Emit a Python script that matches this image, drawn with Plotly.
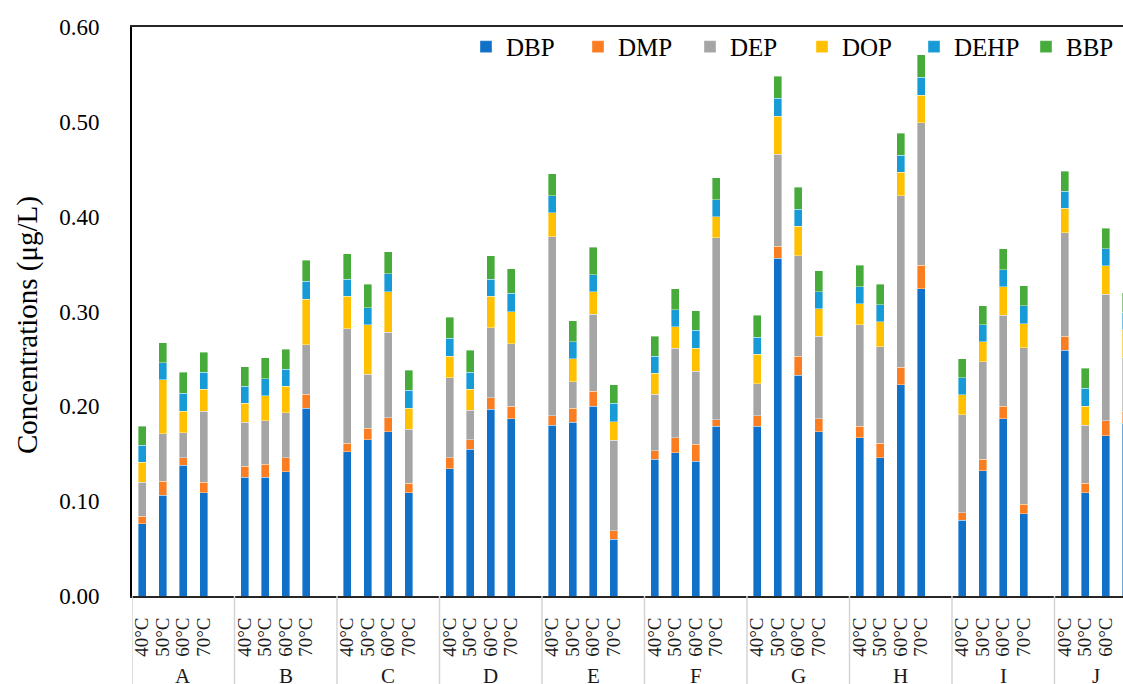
import plotly.graph_objects as go

# Sampling sites and extraction temperatures
groups = ["A", "B", "C", "D", "E", "F", "G", "H", "I", "J"]
temps = ["40°C", "50°C", "60°C", "70°C"]

# Phthalate concentrations (µg/L), ordered site by site, 40→70 °C within each site
DBP = [0.076, 0.106, 0.138, 0.109,
       0.125, 0.125, 0.131, 0.198,
       0.152, 0.165, 0.173, 0.109,
       0.134, 0.155, 0.197, 0.187,
       0.180, 0.183, 0.200, 0.060,
       0.144, 0.151, 0.142, 0.179,
       0.179, 0.356, 0.233, 0.173,
       0.167, 0.146, 0.223, 0.324,
       0.080, 0.132, 0.187, 0.087,
       0.259, 0.109, 0.169, 0.182]
DMP = [0.008, 0.015, 0.008, 0.011,
       0.012, 0.014, 0.015, 0.015,
       0.009, 0.012, 0.015, 0.010,
       0.012, 0.010, 0.012, 0.013,
       0.010, 0.015, 0.016, 0.009,
       0.009, 0.016, 0.018, 0.007,
       0.011, 0.013, 0.020, 0.014,
       0.012, 0.015, 0.018, 0.025,
       0.008, 0.012, 0.013, 0.010,
       0.015, 0.010, 0.016, 0.013]
DEP = [0.036, 0.050, 0.026, 0.075,
       0.046, 0.046, 0.047, 0.052,
       0.121, 0.057, 0.090, 0.057,
       0.084, 0.031, 0.074, 0.066,
       0.189, 0.028, 0.081, 0.095,
       0.060, 0.094, 0.077, 0.192,
       0.034, 0.097, 0.106, 0.087,
       0.107, 0.102, 0.181, 0.150,
       0.103, 0.103, 0.096, 0.165,
       0.109, 0.061, 0.133, 0.056]
DOP = [0.021, 0.057, 0.023, 0.023,
       0.020, 0.026, 0.028, 0.048,
       0.034, 0.052, 0.043, 0.022,
       0.023, 0.022, 0.033, 0.034,
       0.025, 0.024, 0.024, 0.020,
       0.022, 0.023, 0.024, 0.022,
       0.031, 0.040, 0.031, 0.029,
       0.022, 0.026, 0.025, 0.029,
       0.021, 0.021, 0.030, 0.025,
       0.026, 0.020, 0.030, 0.030]
DEHP = [0.018, 0.018, 0.019, 0.018,
        0.018, 0.018, 0.018, 0.019,
        0.018, 0.018, 0.019, 0.019,
        0.019, 0.018, 0.018, 0.019,
        0.018, 0.018, 0.018, 0.019,
        0.018, 0.018, 0.019, 0.018,
        0.018, 0.019, 0.018, 0.018,
        0.018, 0.018, 0.018, 0.019,
        0.018, 0.018, 0.018, 0.019,
        0.018, 0.019, 0.018, 0.018]
BBP = [0.020, 0.021, 0.022, 0.021,
       0.021, 0.022, 0.021, 0.022,
       0.027, 0.025, 0.023, 0.021,
       0.022, 0.023, 0.025, 0.026,
       0.023, 0.022, 0.029, 0.020,
       0.021, 0.022, 0.021, 0.023,
       0.023, 0.023, 0.023, 0.022,
       0.023, 0.022, 0.023, 0.024,
       0.020, 0.020, 0.022, 0.021,
       0.021, 0.021, 0.022, 0.021]

series = [
    ("DBP", DBP, "#1170C8"),
    ("DMP", DMP, "#FA7D22"),
    ("DEP", DEP, "#A5A5A5"),
    ("DOP", DOP, "#FFC000"),
    ("DEHP", DEHP, "#179BD7"),
    ("BBP", BBP, "#46AB3A"),
]

SERIF = "Liberation Serif, Times New Roman, serif"
SLOTS = len(temps) + 1          # four bars plus one empty slot per site

# figure geometry in pixels
W, H = 1123, 684
L, T, B = 132, 27, 88
plot_w, plot_h = W - L, H - T - B

# numeric x slot for every (site, temperature) pair
x_pos = [g * SLOTS + t for g in range(len(groups)) for t in range(len(temps))]
x_text = [temps[t] for g in range(len(groups)) for t in range(len(temps))]

fig = go.Figure()
for name, vals, color in series:
    fig.add_trace(go.Bar(
        x=x_pos, y=vals, name=name, width=0.4,
        marker=dict(color=color, line=dict(color="rgba(255,255,255,0.55)", width=0.7)),
    ))

# site dividers below the axis and site labels
shapes = []
annotations = []
for g, label in enumerate(groups):
    start = g * SLOTS - 0.5
    end = start + SLOTS if g < len(groups) - 1 else start + len(temps)
    shapes.append(dict(type="line", xref="x", yref="paper",
                       x0=start, x1=start, y0=0, y1=-0.2,
                       line=dict(color="#D4D4D4", width=1.5)))
    annotations.append(dict(x=(start + end) / 2, y=-0.116, xref="x", yref="paper",
                            text=label, showarrow=False, yanchor="top",
                            font=dict(family=SERIF, size=21, color="#1a1a1a")))

# y-axis title, centred at pixel (27, 325)
annotations.append(dict(x=(27 - L) / plot_w, y=(H - B - 325) / plot_h,
                        xref="paper", yref="paper", xanchor="center", yanchor="middle",
                        text="Concentrations (μg/L)", showarrow=False,
                        textangle=-90, font=dict(family=SERIF, size=29, color="#000")))

fig.update_layout(
    width=W, height=H,
    margin=dict(l=L, r=0, t=T, b=B, autoexpand=False),
    barmode="stack",
    plot_bgcolor="white", paper_bgcolor="white",
    showlegend=True,
    legend=dict(orientation="h", x=(466 - L) / plot_w, xanchor="left",
                y=0.965, yanchor="middle",
                entrywidth=67, entrywidthmode="pixels",
                font=dict(family=SERIF, size=25, color="#000"),
                bgcolor="rgba(0,0,0,0)", traceorder="normal"),
    shapes=shapes,
    annotations=annotations,
)

fig.update_xaxes(
    range=[-0.5, plot_w / 20.5 - 0.5],
    tickmode="array", tickvals=x_pos, ticktext=x_text, tickangle=-90,
    ticks="", ticklabelstandoff=12,
    tickfont=dict(family=SERIF, size=19, color="#1a1a1a"),
    showgrid=False, zeroline=False,
    showline=True, linecolor="#262626", linewidth=1.8, mirror=True,
)
fig.update_yaxes(
    range=[0, 0.60], dtick=0.10, tickformat=".2f",
    ticks="", ticklabelstandoff=26,
    tickfont=dict(family=SERIF, size=23, color="#000"),
    showgrid=False, zeroline=False,
    showline=True, linecolor="#000", linewidth=2,
)

fig.write_html("out.html")
